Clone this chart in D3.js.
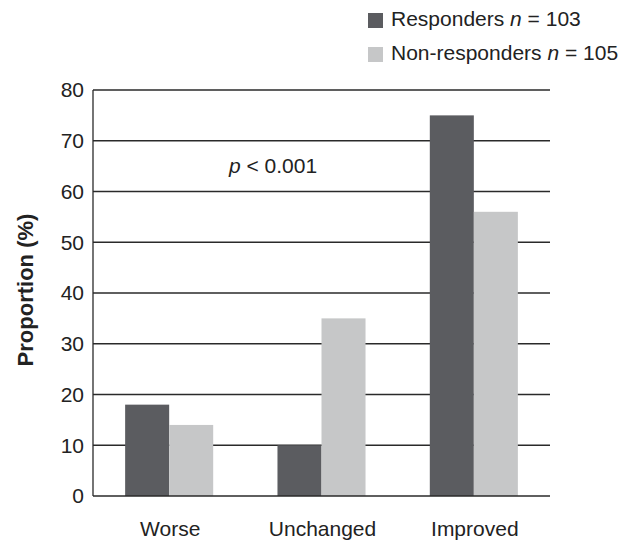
<!DOCTYPE html>
<html><head><meta charset="utf-8">
<script src="https://cdn.jsdelivr.net/npm/d3@7"></script>
<style>body{margin:0;background:#fff}text{font-family:"Liberation Sans",Arial,sans-serif}</style>
</head><body><svg id="c" width="631" height="540"></svg>
<script>
const categories = ["Worse", "Unchanged", "Improved"];
const seriesNames = ["Responders", "Non-responders"];
const seriesN = [103, 105];
const responders = [18, 10, 75];
const nonResponders = [14, 35, 56];
const yTicks = [0, 10, 20, 30, 40, 50, 60, 70, 80];
const colors = ["#5b5c60", "#c6c7c8"];

const svg = d3.select("#c");
const m = {l: 93, r: 550, t: 90, b: 496};
const x = d3.scaleBand().domain(categories).range([m.l, m.r]).paddingInner(0.422).paddingOuter(0.211);
const xs = d3.scaleBand().domain([0, 1]).range([0, x.bandwidth()]);
const y = d3.scaleLinear().domain([0, 80]).range([m.b, m.t]);

// gridlines
svg.append("g").selectAll("line").data(yTicks.filter(d => d > 0)).join("line")
  .attr("x1", m.l).attr("x2", m.r).attr("y1", d => y(d)).attr("y2", d => y(d))
  .attr("stroke", "#2a2a2a").attr("stroke-width", 1.3);

const data = categories.map((c, i) => [responders[i], nonResponders[i]]);
const g = svg.append("g").selectAll("g").data(categories).join("g")
  .attr("transform", d => `translate(${x(d)},0)`);
g.selectAll("rect").data((d, i) => data[i]).join("rect")
  .attr("x", (d, j) => xs(j)).attr("width", xs.bandwidth())
  .attr("y", d => y(d)).attr("height", d => y(0) - y(d))
  .attr("fill", (d, j) => colors[j]);

// axes lines
svg.append("line").attr("x1", m.l).attr("x2", m.l).attr("y1", m.t).attr("y2", m.b).attr("stroke", "#2a2a2a").attr("stroke-width", 1.3);
svg.append("line").attr("x1", m.l).attr("x2", m.r).attr("y1", m.b).attr("y2", m.b).attr("stroke", "#2a2a2a").attr("stroke-width", 1.3);

// y tick labels
svg.append("g").selectAll("text").data(yTicks).join("text")
  .attr("x", 84).attr("y", d => y(d)).attr("dy", "0.35em").attr("text-anchor", "end")
  .attr("font-size", 21).attr("fill", "#222").text(d => d);

// x labels
svg.append("g").selectAll("text").data(categories).join("text")
  .attr("x", d => x(d) + x.bandwidth() / 2 + 1).attr("y", 536).attr("text-anchor", "middle")
  .attr("font-size", 21).attr("fill", "#222").text(d => d);

// y title
svg.append("text").attr("transform", "translate(33,290) rotate(-90)").attr("text-anchor", "middle")
  .attr("font-size", 22).attr("font-weight", "bold").attr("fill", "#222").text("Proportion (%)");

// p value
const pt = svg.append("text").attr("x", 273).attr("y", 173).attr("text-anchor", "middle").attr("font-size", 21).attr("fill", "#222");
pt.append("tspan").attr("font-style", "italic").text("p");
pt.append("tspan").text(" < 0.001");

// legend
const lg = svg.append("g").selectAll("g").data(seriesNames).join("g")
  .attr("transform", (d, i) => `translate(368,${13 + i * 34})`);
lg.append("rect").attr("width", 15).attr("height", 15).attr("fill", (d, i) => colors[i]);
const lt = lg.append("text").attr("x", 23).attr("y", 13).attr("font-size", 21).attr("fill", "#222");
lt.append("tspan").text(d => d + " ");
lt.append("tspan").attr("font-style", "italic").text("n");
lt.append("tspan").text((d, i) => " = " + seriesN[i]);
</script></body></html>
